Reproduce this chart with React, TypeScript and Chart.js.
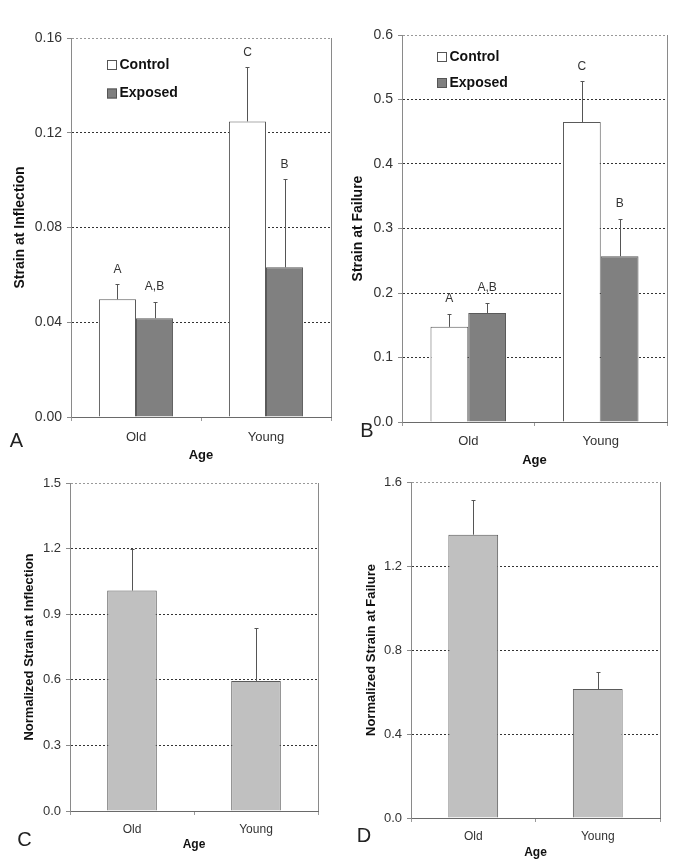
import React, { useEffect, useRef } from "react";
import { Chart, registerables } from "chart.js";

Chart.register(...registerables);
Chart.defaults.font.family = '"Liberation Sans", Arial, sans-serif';

// ---------- data ----------
const ageGroups = ["Old", "Young"];
const seriesNames = ["Control", "Exposed"];

// Panel A: strain at inflection
const inflectionControl = [0.0497, 0.1248];
const inflectionControlErr = [0.0063, 0.0228];
const inflectionExposed = [0.0417, 0.0632];
const inflectionExposedErr = [0.0069, 0.0371];
const inflectionTicks = [0, 0.04, 0.08, 0.12, 0.16];

// Panel B: strain at failure
const failureControl = [0.1475, 0.465];
const failureControlErr = [0.0205, 0.063];
const failureExposed = [0.169, 0.257];
const failureExposedErr = [0.016, 0.058];
const failureTicks = [0, 0.1, 0.2, 0.3, 0.4, 0.5, 0.6];

// significance letters (same for A and B)
const controlLetters = ["A", "C"];
const exposedLetters = ["A,B", "B"];

// Panel C: normalized strain at inflection
const normInflection = [1.008, 0.595];
const normInflectionErr = [0.189, 0.24];
const normInflectionTicks = [0, 0.3, 0.6, 0.9, 1.2, 1.5];

// Panel D: normalized strain at failure
const normFailure = [1.349, 0.614];
const normFailureErr = [0.165, 0.081];
const normFailureTicks = [0, 0.4, 0.8, 1.2, 1.6];

// ---------- plugin ----------
const panelPlugin = {
  id: "panelDeco",
  afterDatasetsDraw(chart: any, _args: any, opts: any) {
    const ctx = chart.ctx;
    const ys = chart.scales.y;
    chart.data.datasets.forEach((ds: any, di: number) => {
      const meta = chart.getDatasetMeta(di);
      const errs = opts.errors[di];
      const letters = opts.letters ? opts.letters[di] : null;
      meta.data.forEach((bar: any, i: number) => {
        const v = ds.data[i];
        const top = ys.getPixelForValue(v + errs[i]);
        const x = Math.round(bar.x) + 0.5;
        const ty = Math.round(top) + 0.5;
        ctx.save();
        ctx.strokeStyle = "#555";
        ctx.lineWidth = 1;
        ctx.beginPath();
        ctx.moveTo(x, bar.y);
        ctx.lineTo(x, ty);
        ctx.moveTo(x - 2, ty);
        ctx.lineTo(x + 2, ty);
        ctx.stroke();
        if (letters) {
          ctx.fillStyle = "#333";
          ctx.font = '12px "Liberation Sans", Arial, sans-serif';
          ctx.textAlign = "center";
          ctx.textBaseline = "middle";
          ctx.fillText(letters[i], bar.x, top - opts.letterGap);
        }
        ctx.restore();
      });
    });
  },
  afterDraw(chart: any, _args: any, opts: any) {
    const ctx = chart.ctx;
    const a = chart.chartArea;
    ctx.save();
    // right frame line
    ctx.strokeStyle = "#8a8a8a";
    ctx.lineWidth = 1;
    ctx.beginPath();
    const rx = Math.round(a.right) + 0.5;
    ctx.moveTo(rx, a.top);
    ctx.lineTo(rx, a.bottom);
    ctx.stroke();
    // legend
    if (opts.legend) {
      const L = opts.legend;
      chart.data.datasets.forEach((ds: any, i: number) => {
        const cx = a.left + L.dx;
        const cy = a.top + L.dy + i * L.gap;
        ctx.fillStyle = ds.backgroundColor;
        ctx.fillRect(cx, cy - 5, 10, 10);
        ctx.strokeStyle = "#555";
        ctx.strokeRect(cx + 0.5, cy - 4.5, 9, 9);
        ctx.fillStyle = "#111";
        ctx.font = 'bold 14px "Liberation Sans", Arial, sans-serif';
        ctx.textAlign = "left";
        ctx.textBaseline = "middle";
        ctx.fillText(ds.label, cx + 12.5, cy);
      });
    }
    // panel label
    if (opts.panelLabel) {
      const P = opts.panelLabel;
      ctx.fillStyle = "#222";
      ctx.font = '20px "Liberation Sans", Arial, sans-serif';
      ctx.textAlign = "center";
      ctx.textBaseline = "middle";
      ctx.fillText(P.text, P.x, P.y);
    }
    ctx.restore();
  },
};

type Spec = {
  datasets: { label: string; data: number[]; backgroundColor: string }[];
  errors: number[][];
  letters?: string[][];
  ticks: number[];
  decimals: number;
  yTitle: string;
  yTitleSize: number;
  yTitlePad: number;
  tickFont: number;
  xFont: number;
  xTitleSize: number;
  xTickPad: number;
  xTitlePad: number;
  yWidth: number;
  xHeight: number;
  padTop: number;
  padRight: number;
  catPct: number;
  legend?: { dx: number; dy: number; gap: number };
  panelLabel: { text: string; x: number; y: number };
};

function makeConfig(s: Spec): any {
  const max = s.ticks[s.ticks.length - 1];
  return {
    type: "bar",
    data: {
      labels: ageGroups,
      datasets: s.datasets.map((d) => ({
        ...d,
        borderColor: "#5a5a5a",
        borderWidth: 1,
        barPercentage: 1,
        categoryPercentage: s.catPct,
      })),
    },
    options: {
      responsive: false,
      animation: false,
      devicePixelRatio: 1,
      layout: { padding: { top: s.padTop, right: s.padRight, left: 0, bottom: 0 } },
      plugins: {
        legend: { display: false },
        tooltip: { enabled: false },
        panelDeco: {
          errors: s.errors,
          letters: s.letters,
          letterGap: 15,
          legend: s.legend,
          panelLabel: s.panelLabel,
        },
      },
      scales: {
        x: {
          grid: {
            display: true,
            drawOnChartArea: false,
            drawTicks: true,
            tickLength: 4,
            tickColor: "#9a9a9a",
            offset: true,
          },
          border: { display: true, color: "#6a6a6a", width: 1 },
          ticks: { color: "#333", font: { size: s.xFont }, padding: s.xTickPad },
          title: {
            display: true,
            text: "Age",
            color: "#111",
            font: { size: s.xTitleSize, weight: "bold" },
            padding: { top: 0, bottom: s.xTitlePad },
          },
          afterFit: (sc: any) => {
            sc.height = s.xHeight;
          },
        },
        y: {
          min: 0,
          max,
          afterBuildTicks: (sc: any) => {
            sc.ticks = s.ticks.map((v) => ({ value: v }));
          },
          grid: {
            color: (c: any) => {
              const v = c.tick ? c.tick.value : 0;
              if (v === 0) return "rgba(0,0,0,0)";
              if (v >= max - 1e-9) return "#999";
              return "#333";
            },
            lineWidth: 1,
            drawTicks: true,
            tickLength: 4,
            tickColor: "#8a8a8a",
            tickBorderDash: [],
          },
          border: { display: true, color: "#8a8a8a", width: 1, dash: [2, 2] },
          ticks: {
            color: "#333",
            font: { size: s.tickFont },
            padding: 5,
            callback: (v: any) => Number(v).toFixed(s.decimals),
          },
          title: {
            display: true,
            text: s.yTitle,
            color: "#111",
            font: { size: s.yTitleSize, weight: "bold" },
            padding: { top: s.yTitlePad, bottom: 0 },
          },
          afterFit: (sc: any) => {
            sc.width = s.yWidth;
          },
        },
      },
    },
    plugins: [panelPlugin],
  };
}

const specA: Spec = {
  datasets: [
    { label: seriesNames[0], data: inflectionControl, backgroundColor: "#ffffff" },
    { label: seriesNames[1], data: inflectionExposed, backgroundColor: "#808080" },
  ],
  errors: [inflectionControlErr, inflectionExposedErr],
  letters: [controlLetters, exposedLetters],
  ticks: inflectionTicks,
  decimals: 2,
  yTitle: "Strain at Inflection",
  yTitleSize: 14,
  yTitlePad: 12,
  tickFont: 14,
  xFont: 13,
  xTitleSize: 13,
  xTickPad: 9,
  xTitlePad: 5,
  yWidth: 71,
  xHeight: 51,
  padTop: 38,
  padRight: 9,
  catPct: 0.57,
  legend: { dx: 36, dy: 27, gap: 28.5 },
  panelLabel: { text: "A", x: 16.5, y: 441 },
};

const specB: Spec = {
  datasets: [
    { label: seriesNames[0], data: failureControl, backgroundColor: "#ffffff" },
    { label: seriesNames[1], data: failureExposed, backgroundColor: "#808080" },
  ],
  errors: [failureControlErr, failureExposedErr],
  letters: [controlLetters, exposedLetters],
  ticks: failureTicks,
  decimals: 1,
  yTitle: "Strain at Failure",
  yTitleSize: 14,
  yTitlePad: 10,
  tickFont: 14,
  xFont: 13,
  xTitleSize: 13,
  xTickPad: 8,
  xTitlePad: 0,
  yWidth: 62,
  xHeight: 46,
  padTop: 35,
  padRight: 18,
  catPct: 0.57,
  legend: { dx: 35, dy: 22, gap: 26 },
  panelLabel: { text: "B", x: 27, y: 431.5 },
};

const specC: Spec = {
  datasets: [{ label: "Normalized", data: normInflection, backgroundColor: "#c0c0c0" }],
  errors: [normInflectionErr],
  ticks: normInflectionTicks,
  decimals: 1,
  yTitle: "Normalized Strain at Inflection",
  yTitleSize: 13,
  yTitlePad: 21.5,
  tickFont: 13,
  xFont: 12,
  xTitleSize: 12,
  xTickPad: 7,
  xTitlePad: 14,
  yWidth: 70,
  xHeight: 55,
  padTop: 15,
  padRight: 22,
  catPct: 0.4,
  panelLabel: { text: "C", x: 24.5, y: 372.5 },
};

const specD: Spec = {
  datasets: [{ label: "Normalized", data: normFailure, backgroundColor: "#c0c0c0" }],
  errors: [normFailureErr],
  ticks: normFailureTicks,
  decimals: 1,
  yTitle: "Normalized Strain at Failure",
  yTitleSize: 13,
  yTitlePad: 23.5,
  tickFont: 13,
  xFont: 12,
  xTitleSize: 12,
  xTickPad: 7,
  xTitlePad: 6,
  yWidth: 71,
  xHeight: 48,
  padTop: 14,
  padRight: 25,
  catPct: 0.4,
  panelLabel: { text: "D", x: 24, y: 368.5 },
};

function Panel(props: { left: number; top: number; width: number; height: number; spec: Spec }) {
  const ref = useRef<HTMLCanvasElement | null>(null);
  useEffect(() => {
    if (!ref.current) return;
    const chart = new Chart(ref.current, makeConfig(props.spec));
    return () => chart.destroy();
  }, []);
  return (
    <canvas
      ref={ref}
      width={props.width}
      height={props.height}
      style={{
        position: "absolute",
        left: props.left,
        top: props.top,
        width: props.width,
        height: props.height,
      }}
    />
  );
}

export default function App() {
  return (
    <div
      style={{
        position: "absolute",
        left: 0,
        top: 0,
        width: 685,
        height: 866,
        background: "#ffffff",
        overflow: "hidden",
      }}
    >
      <Panel left={0} top={0} width={340} height={468} spec={specA} />
      <Panel left={340} top={0} width={345} height={468} spec={specB} />
      <Panel left={0} top={468} width={340} height={398} spec={specC} />
      <Panel left={340} top={468} width={345} height={398} spec={specD} />
    </div>
  );
}
